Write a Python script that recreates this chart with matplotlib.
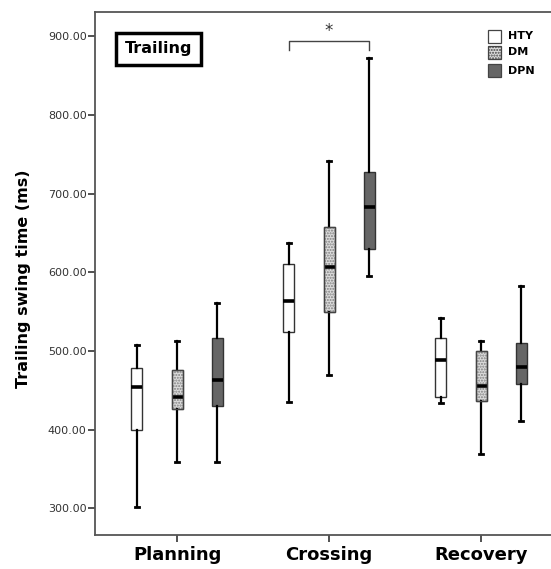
import numpy as np
import matplotlib
matplotlib.use("Agg")
import matplotlib.pyplot as plt
from matplotlib.patches import Rectangle

# Phases and groups
phases = ["Planning", "Crossing", "Recovery"]
groups = ["HTY", "DM", "DPN"]

# Five-number summaries per phase, order: HTY, DM, DPN
# (whisker low, Q1, median, Q3, whisker high) in ms
planning = [
    (301, 400, 454, 478, 507),
    (359, 426, 442, 476, 513),
    (359, 430, 463, 516, 561),
]
crossing = [
    (435, 524, 563, 610, 637),
    (469, 549, 607, 657, 742),
    (595, 630, 683, 728, 872),
]
recovery = [
    (434, 441, 488, 516, 542),
    (369, 436, 455, 500, 513),
    (411, 458, 479, 510, 583),
]
summaries = [planning, crossing, recovery]
yticks = [300, 400, 500, 600, 700, 800, 900]

face_colors = ["white", "#dcdcdc", "#666666"]
hatches = [None, "......", None]
edge_colors = ["#333333", "#808080", "#333333"]

fig = plt.figure(figsize=(5.51, 5.69), dpi=100)
ax = fig.add_axes([0.1724, 0.0598, 0.8276, 0.9192])

offsets = [-0.265, 0.0, 0.265]
for pi, phase_stats in enumerate(summaries):
    for gi, (lo, q1, med, q3, hi) in enumerate(phase_stats):
        stats = [dict(whislo=lo, q1=q1, med=med, q3=q3, whishi=hi, fliers=[])]
        pos = pi + 1 + offsets[gi]
        ax.bxp(stats, positions=[pos], widths=0.072, patch_artist=True,
               showfliers=False, capwidths=0.026,
               boxprops=dict(facecolor=face_colors[gi], edgecolor=edge_colors[gi],
                             linewidth=1.0, hatch=hatches[gi]),
               medianprops=dict(color="black", linewidth=2.6),
               whiskerprops=dict(color="black", linewidth=1.6),
               capprops=dict(color="black", linewidth=2.0))
        if gi == 1:
            # darker outline over the dotted box
            ax.add_patch(Rectangle((pos - 0.036, q1), 0.072, q3 - q1, fill=False,
                                   edgecolor="#444444", linewidth=1.0, zorder=3))

ax.set_xlim(0.46, 3.46)
ax.set_ylim(266, 931)
ax.set_xticks([1, 2, 3])
ax.set_xticklabels(phases, fontsize=13, fontweight="bold")
ax.set_yticks(yticks)
ax.set_yticklabels([f"{v:.2f}" for v in yticks], fontsize=8, color="#333333")
ax.tick_params(axis="y", length=5, width=1.2, color="#333333", pad=1)
ax.tick_params(axis="x", length=5, width=1.2, color="#333333", pad=3)
ax.set_ylabel("Trailing swing time (ms)", fontsize=11.5, fontweight="bold")
ax.yaxis.set_label_coords(-0.14, 0.489)

for side in ["left", "bottom", "top"]:
    ax.spines[side].set_color("#555555")
    ax.spines[side].set_linewidth(1.3)
ax.spines["right"].set_visible(False)

# Significance bracket between HTY and DPN at Crossing
x1 = 2 + offsets[0]
x2 = 2 + offsets[2]
yb = 894
ax.plot([x1, x1, x2, x2], [yb - 11, yb, yb, yb - 11], color="#444444", linewidth=1.0)
ax.text((x1 + x2) / 2, yb + 1, "*", ha="center", va="bottom", fontsize=12, color="#333333")

# Panel label
ax.text(0.655, 884, "Trailing", ha="left", va="center", fontsize=11.5, fontweight="bold",
        bbox=dict(boxstyle="square,pad=0.55", facecolor="white", edgecolor="black", linewidth=2.5))

# Legend
leg_y = [900, 879.5, 856.5]
for gi, g in enumerate(groups):
    ax.add_patch(Rectangle((3.047, leg_y[gi] - 8), 0.082, 16, facecolor=face_colors[gi],
                           edgecolor="#444444", linewidth=0.9, hatch=hatches[gi],
                           clip_on=False))
    ax.text(3.18, leg_y[gi], g, ha="left", va="center", fontsize=8, fontweight="bold")

fig.savefig("out.png", dpi=100)
